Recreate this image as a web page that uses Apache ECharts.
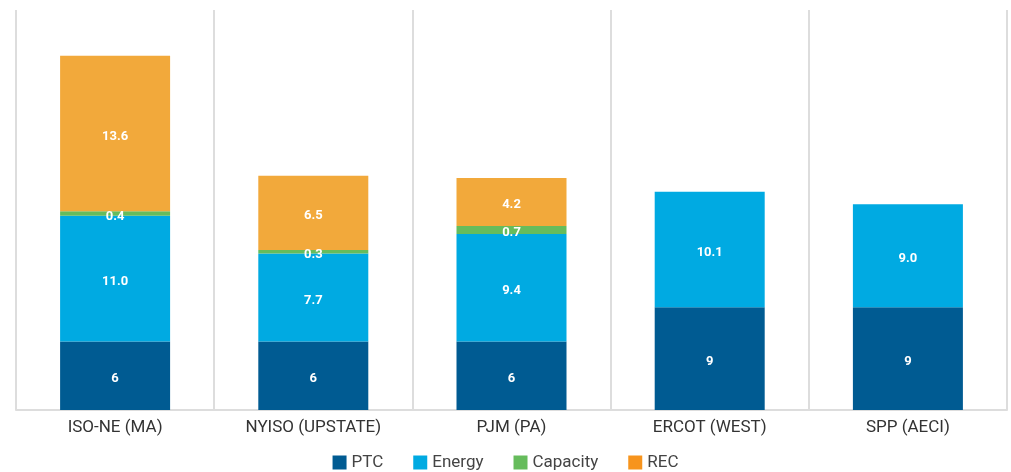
<!DOCTYPE html>
<html>
<head>
<meta charset="utf-8">
<script src="https://cdn.jsdelivr.net/npm/echarts@6/dist/echarts.min.js"></script>
<style>
html,body{margin:0;padding:0;background:#fff;}
#chart{width:1011px;height:472px;}
</style>
</head>
<body>
<div id="chart"></div>
<script>
var categories = ['ISO-NE (MA)', 'NYISO (UPSTATE)', 'PJM (PA)', 'ERCOT (WEST)', 'SPP (AECI)'];
var ptc = [6, 6, 6, 9, 9];
var energy = [11.0, 7.7, 9.4, 10.1, 9.0];
var capacity = [0.4, 0.3, 0.7, null, null];
var rec = [13.6, 6.5, 4.2, null, null];

var seriesNames = ['PTC', 'Energy', 'Capacity', 'REC'];
var colors = ['#005B92', '#00AAE2', '#66BC5C', '#F2A93B'];
var legendColors = ['#005B92', '#00AAE2', '#66BC5C', '#F7941D'];

function mk(name, data, color, digits) {
  return {
    name: name,
    type: 'bar',
    stack: 'total',
    data: data,
    barWidth: 110,
    itemStyle: { color: color },
    label: {
      show: true,
      position: 'inside',
      offset: [0, 3],
      color: '#fff',
      fontFamily: 'Roboto',
      fontWeight: 'bold',
      fontSize: 13,
      formatter: function (p) {
        if (p.value == null) return '';
        return digits ? Number(p.value).toFixed(digits) : String(p.value);
      }
    },
    emphasis: { disabled: true }
  };
}

var chart = echarts.init(document.getElementById('chart'), null, { renderer: 'canvas' });
chart.setOption({
  animation: false,
  textStyle: { fontFamily: 'Roboto' },
  grid: { left: 16, right: 4, top: 10, bottom: 62, containLabel: false },
  xAxis: {
    type: 'category',
    data: categories,
    boundaryGap: true,
    axisLine: { show: true, lineStyle: { color: '#dddddd', width: 2 } },
    axisTick: { show: false },
    splitLine: { show: true, lineStyle: { color: '#dddddd', width: 2 } },
    axisLabel: { color: '#333333', fontSize: 17, margin: 9, fontFamily: 'Roboto' }
  },
  yAxis: {
    type: 'value',
    min: 0,
    max: 35,
    show: false,
    splitLine: { show: false }
  },
  legend: {
    top: 449,
    left: 'center',
    itemWidth: 14,
    itemHeight: 14,
    itemGap: 30,
    icon: 'rect',
    textStyle: { color: '#444444', fontSize: 17, fontFamily: 'Roboto' },
    data: seriesNames.map(function (n, i) { return { name: n, itemStyle: { color: legendColors[i] } }; })
  },
  series: [
    mk('PTC', ptc, colors[0], 0),
    mk('Energy', energy, colors[1], 1),
    mk('Capacity', capacity, colors[2], 1),
    mk('REC', rec, colors[3], 1)
  ]
});
</script>
</body>
</html>
